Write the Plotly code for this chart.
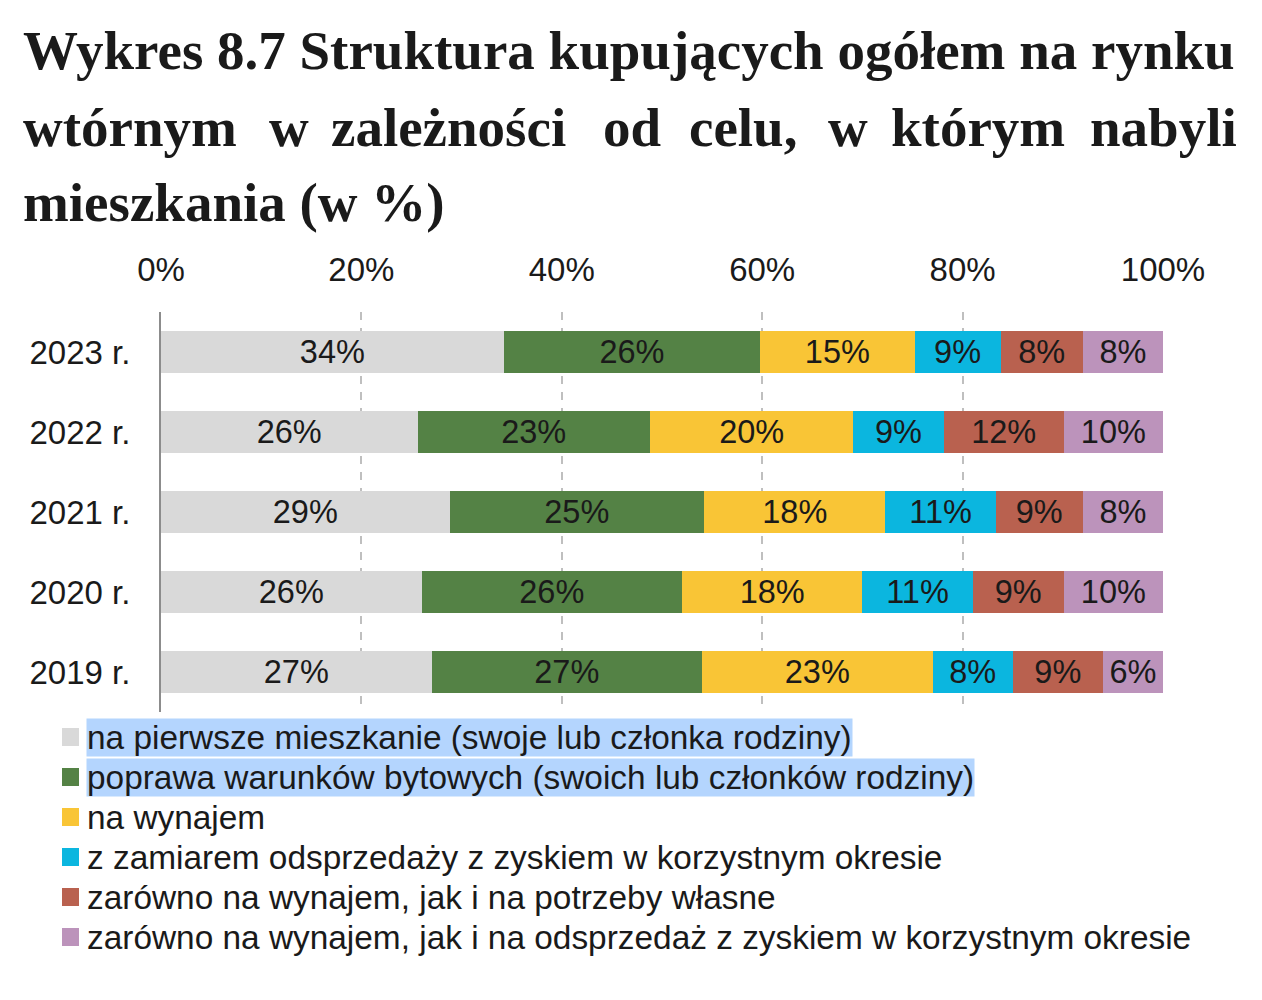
import plotly.graph_objects as go

# data (shares in %)
years = ['2019 r.', '2020 r.', '2021 r.', '2022 r.', '2023 r.']
pierwsze = [27.0, 26.0, 28.8, 25.6, 34.2]
poprawa = [27.0, 26.0, 25.4, 23.2, 25.6]
wynajem = [23.0, 18.0, 18.1, 20.3, 15.4]
odsprzedaz = [8.0, 11.0, 11.0, 9.0, 8.6]
wynajem_wlasne = [9.0, 9.1, 8.7, 12.0, 8.2]
wynajem_odsprzedaz = [6.0, 9.9, 8.0, 9.9, 8.0]

series_names = [
    'na pierwsze mieszkanie (swoje lub członka rodziny)',
    'poprawa warunków bytowych (swoich lub członków rodziny)',
    'na wynajem',
    'z zamiarem odsprzedaży z zyskiem w korzystnym okresie',
    'zarówno na wynajem, jak i na potrzeby własne',
    'zarówno na wynajem, jak i na odsprzedaż z zyskiem w korzystnym okresie',
]
series_values = [pierwsze, poprawa, wynajem, odsprzedaz, wynajem_wlasne, wynajem_odsprzedaz]
colors = ['#d9d9d9', '#548245', '#f9c536', '#0bb6df', '#b9614f', '#bc93bb']

# page body has an 8px margin, so the figure is a bit smaller than the window
OFF = 8
W, H = 1262 - OFF, 1000 - OFF
PX_L, PX_R, PX_T, PX_B = 161, 1163, 312, 712   # plot area in screen pixels
L, T = PX_L - OFF, PX_T - OFF
PW, PH = PX_R - PX_L, PX_B - PX_T
R, B = W - L - PW, H - T - PH


def px_x(px):
    return (px - PX_L) / PW


def px_y(py):
    return (PX_B - py) / PH


sans = 'Liberation Sans, Arial'
ink = '#1a1a1a'

fig = go.Figure()
for name, vals, col in zip(series_names, series_values, colors):
    fig.add_trace(go.Bar(
        y=years, x=vals, name=name, orientation='h',
        marker=dict(color=col, line=dict(width=0)),
        texttemplate='%{x:.0f}%',
        textposition='inside', insidetextanchor='middle',
        constraintext='none',
        textfont=dict(family=sans, size=32.5, color=ink),
        hoverinfo='skip', showlegend=False,
    ))

title_font = dict(family='Liberation Serif, Times New Roman', size=55, color=ink)
annotations = [
    dict(text='<b>Wykres 8.7 Struktura kupujących ogółem na rynku</b>',
         x=px_x(22), y=px_y(50), xanchor='left', yanchor='middle'),
    dict(text='<b>mieszkania (w %)</b>',
         x=px_x(22), y=px_y(202), xanchor='left', yanchor='middle'),
]
# justified second title line, one word at a time
line2 = [('wtórnym', 22), ('w', 268), ('zależności', 330), ('od', 602),
         ('celu,', 688), ('w', 827), ('którym', 890)]
for word, xpos in line2:
    annotations.append(dict(text='<b>' + word + '</b>', x=px_x(xpos), y=px_y(127),
                            xanchor='left', yanchor='middle'))
annotations.append(dict(text='<b>nabyli</b>', x=px_x(1238), y=px_y(127),
                        xanchor='right', yanchor='middle'))
for a in annotations:
    a.update(font=title_font)

# legend below the plot, drawn as text + colour squares
shapes = []
for i, (name, col) in enumerate(zip(series_names, colors)):
    cy = 737 + 40 * i
    annotations.append(dict(
        text=name, x=px_x(86), y=px_y(cy), xanchor='left', yanchor='middle',
        font=dict(family=sans, size=33.4, color=ink),
        bgcolor='#b4d5fe' if i < 2 else 'rgba(0,0,0,0)',  # selection highlight
    ))
    shapes.append(dict(type='rect', xref='paper', yref='paper',
                       x0=px_x(62), x1=px_x(79), y0=px_y(cy + 9), y1=px_y(cy - 9),
                       fillcolor=col, line=dict(width=0)))

for a in annotations:
    a.update(xref='paper', yref='paper', showarrow=False, borderpad=0)

fig.update_layout(
    width=W, height=H,
    margin=dict(l=L, r=R, t=T, b=B, pad=0),
    barmode='stack', bargap=0.48,
    plot_bgcolor='white', paper_bgcolor='white',
    font=dict(family=sans, size=33, color=ink),
    showlegend=False,
    annotations=annotations,
    shapes=shapes,
    xaxis=dict(range=[0, 100], side='top', tickvals=[0, 20, 40, 60, 80, 100],
               ticktext=['0%', '20%', '40%', '60%', '80%', '100%'],
               tickfont=dict(size=33),
               showgrid=True, gridcolor='#bfbfbf', gridwidth=2, griddash='8px,8px',
               zeroline=False, showline=False, ticks='', ticklabelstandoff=23,
               fixedrange=True),
    yaxis=dict(showline=True, linecolor='#8c8c8c', linewidth=2, ticks='',
               tickfont=dict(size=33),
               showgrid=False, ticklabelstandoff=22, fixedrange=True),
)

fig.write_html('out.html')
